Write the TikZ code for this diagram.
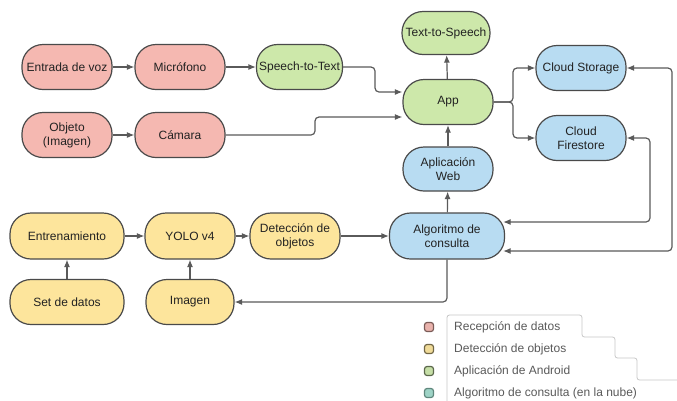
\documentclass[tikz,border=0pt]{standalone}
\usepackage{fontspec}
\setmainfont{Liberation Sans}
\usetikzlibrary{arrows.meta,calc}
\definecolor{cpink}{HTML}{F5B8B1}
\definecolor{cyellow}{HTML}{FDE59C}
\definecolor{cgreen}{HTML}{CDE8AA}
\definecolor{cblue}{HTML}{B8DCF2}
\definecolor{cline}{HTML}{5A5A5A}
\definecolor{cborder}{HTML}{4A4A4A}
\definecolor{ctext}{HTML}{222222}
\tikzset{
  box/.style={draw=cborder, line width=1.2pt, rounded corners=21pt, minimum width=90pt,
    minimum height=45pt, inner sep=0pt, align=center, text=ctext,
    font=\fontsize{12}{14}\selectfont},
  pinkbox/.style={box, fill=cpink},
  yellowbox/.style={box, fill=cyellow},
  greenbox/.style={box, fill=cgreen},
  bluebox/.style={box, fill=cblue},
  arr/.style={draw=cline, line width=1.2pt, rounded corners=4pt,
    -{Latex[length=7.5pt,width=6pt]}},
  biarr/.style={draw=cline, line width=1.2pt, rounded corners=4pt,
    {Latex[length=7.5pt,width=6pt]}-{Latex[length=7.5pt,width=6pt]}},
  legsq/.style={draw, line width=1.2pt, rounded corners=2.5pt, minimum width=9pt,
    minimum height=9pt, inner sep=0pt},
  legtxt/.style={anchor=west, text=cline, inner sep=0pt, font=\fontsize{12}{14}\selectfont}
}
\begin{document}
\begin{tikzpicture}[x=1pt,y=-1pt]
\useasboundingbox[fill=white] (0,0) rectangle (677,400);

% Recepcion de datos
\node[pinkbox] (ent) at (67,67) {Entrada de voz};
\node[pinkbox] (mic) at (180,67) {Micrófono};
\node[pinkbox] (obj) at (67,135) {Objeto\\(Imagen)};
\node[pinkbox] (cam) at (180,135) {Cámara};

% Android app
\node[greenbox, minimum width=86pt] (stt) at (299.5,67) {Speech-to-Text};
\node[greenbox, minimum width=88pt, minimum height=43pt] (tts) at (446,33) {Text-to-Speech};
\node[greenbox] (app) at (448,102) {App};

% Cloud
\node[bluebox] (cs) at (581,68) {Cloud Storage};
\node[bluebox] (cf) at (581,138) {Cloud\\Firestore};
\node[bluebox, minimum height=44pt] (web) at (448,169) {Aplicación\\Web};
\node[bluebox, minimum width=115pt, minimum height=46pt] (alg) at (447,236) {Algoritmo de\\consulta};

% Deteccion de objetos
\node[yellowbox, minimum width=114pt, minimum height=46pt] (entr) at (67,236) {Entrenamiento};
\node[yellowbox, minimum height=46pt] (yolo) at (190,236) {YOLO v4};
\node[yellowbox, minimum height=46pt] (det) at (295,236) {Detección de\\objetos};
\node[yellowbox, minimum width=114pt, minimum height=45pt] (set) at (67,302) {Set de datos};
\node[yellowbox, minimum width=88pt, minimum height=45pt] (img) at (190,302) {Imagen};

% connectors
\draw[arr] (ent) -- (mic);
\draw[arr] (mic) -- (stt);
\draw[arr] (obj) -- (cam);
\draw[arr] (stt.east) -- (375,67) |- ($(app.west)+(0,-10)$);
\draw[arr] (cam.east) -- (315,135) |- ($(app.west)+(0,15)$);
\draw[arr] (app) -- (tts);
\draw[arr] (app.east) -- (513,102) |- (cs.west);
\draw[arr] (app.east) -- (513,102) |- (cf.west);
\draw[arr] (web) -- (app);
\draw[arr] (alg) -- (web);
\draw[arr] (entr) -- (yolo);
\draw[arr] (yolo) -- (det);
\draw[arr] (det) -- (alg);
\draw[arr] (set) -- (entr);
\draw[arr] (img) -- (yolo);
\draw[arr] (alg.south) |- (img.east);
\draw[biarr] (cf.east) -- (650,138) |- ($(alg.east)+(-2,-14)$);
\draw[biarr] (cs.east) -- (672,68) |- ($(alg.east)+(-2,15)$);

% legend
\draw[draw=black!22, line width=0.8pt, rounded corners=2.5pt]
  (447,401) -- (447,315) -- (582,315) -- (582,337) -- (615,337) -- (615,358)
  -- (637,358) -- (637,380) -- (678,380);
\node[legsq, fill=cpink!90!gray, draw=cpink!50!black] (l1) at (429,327) {};
\node[legsq, fill=cyellow!90!gray, draw=cyellow!45!black] (l2) at (429,349) {};
\node[legsq, fill=cgreen!90!gray, draw=cgreen!45!black] (l3) at (429,371) {};
\node[legsq, fill={rgb,255:red,158;green,211;blue,198}, draw={rgb,255:red,95;green,135;blue,125}] (l4) at (429,393) {};
\node[legtxt] (t1) at (454,327) {Recepción de datos};
\node[legtxt] (t2) at (454,349) {Detección de objetos};
\node[legtxt] (t3) at (454,371) {Aplicación de Android};
\node[legtxt] (t4) at (454,393) {Algoritmo de consulta (en la nube)};
\end{tikzpicture}
\end{document}
